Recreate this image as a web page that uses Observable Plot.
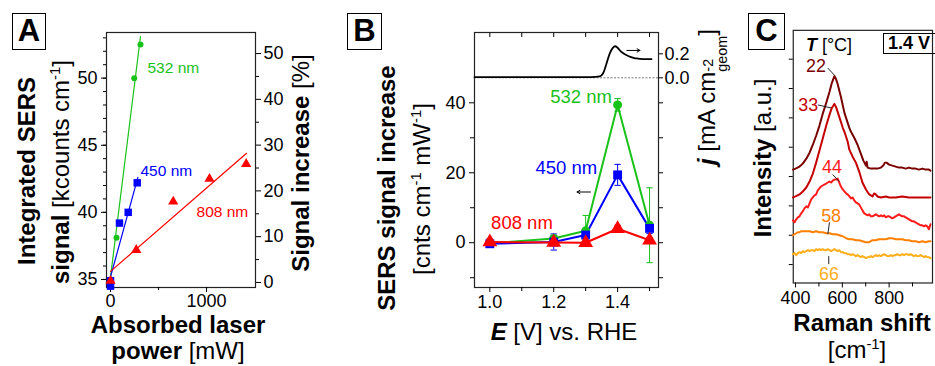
<!DOCTYPE html>
<html><head><meta charset="utf-8">
<script src="https://cdn.jsdelivr.net/npm/d3@7"></script>
<script src="https://cdn.jsdelivr.net/npm/@observablehq/plot@0.6"></script>
<style>
html,body{margin:0;padding:0;background:#fff;overflow:hidden}
#fig{position:relative;width:935px;height:366px;overflow:hidden;font-family:"Liberation Sans",Arial,sans-serif;color:#000;background:#fff}
#fig svg{position:absolute;left:0;top:0}
.t{position:absolute;white-space:nowrap;transform:translate(-50%,-50%);line-height:1;font-size:24px}
.v{transform:translate(-50%,-50%) rotate(-90deg)}
.b{font-weight:bold}
.box{position:absolute;border:1.6px solid #000;font-weight:bold;font-size:31px;line-height:34px;text-align:center;box-sizing:border-box}
sup{font-size:0.62em;vertical-align:0.6em;line-height:0}
.ss{display:inline-flex;flex-direction:column;font-size:0.6em;line-height:0.95;vertical-align:0.15em}
</style></head>
<body><div id="fig"></div>
<script>
// ---------- Panel A data ----------
const powA532 = [0, 62, 247, 312];
const sigA532 = [35.0, 38.1, 50.0, 52.5];
const powA450 = [0, 0, 93, 184, 278];
const sigA450 = [34.9, 34.5, 39.2, 40.0, 42.2];
const powA808 = [0, 268, 653, 1031, 1413];
const sigA808 = [34.9, 37.2, 40.8, 42.5, 43.6];
const fitPowA532 = [0, 312], fitSigA532 = [35.2, 53.1];
const fitPowA450 = [0, 285], fitSigA450 = [35.2, 42.6];
const fitPowA808 = [0, 1417], fitSigA808 = [35.6, 44.4];
const ticksAleft = [35, 40, 45, 50];
const ticksAright = [0, 10, 20, 30, 40, 50];
const ticksAx = [0, 1000];

// ---------- Panel B data ----------
const potB = [1.0, 1.2, 1.3, 1.4, 1.5];
const incB532 = [-0.2, 1.2, 3.4, 39.4, 5.0];
const errB532 = [0.8, 0.8, 4.4, 1.8, 10.7];
const incB450 = [-0.3, 0.2, 2.2, 19.4, 4.1];
const errB450 = [0.5, 2.3, 1.0, 3.0, 1.5];
const incB808 = [0.2, 0.1, 0.0, 4.0, 0.7];
const errB808 = [1.0, 0.5, 0.5, 1.0, 0.8];
const potJ = [0.952, 1.1, 1.2, 1.3, 1.33, 1.344, 1.355, 1.365, 1.375, 1.385, 1.392, 1.40, 1.41, 1.42, 1.43, 1.44, 1.45, 1.46, 1.48, 1.506];
const curJ = [0.005, 0.005, 0.005, 0.006, 0.008, 0.012, 0.04, 0.117, 0.2, 0.25, 0.263, 0.25, 0.22, 0.2, 0.186, 0.175, 0.167, 0.161, 0.156, 0.155];
const ticksBx = [1.0, 1.2, 1.4];
const ticksBy = [0, 20, 40];
const ticksJ = [0.0, 0.2];

// ---------- Panel C data ----------
const tempsC = ["22", "33", "44", "58", "66"];
const spec22 = [[389,11.3],[400,11.4],[417,11.6],[431,11.9],[446,12.4],[460,13.0],[474,13.8],[488,14.7],[502,15.7],[516,16.9],[531,18.0],[545,19.1],[555,20.0],[566,20.7],[573,20.4],[580,19.9],[594,18.6],[609,17.0],[623,16.0],[630,15.5],[637,15.1],[644,14.8],[651,14.5],[665,13.8],[679,12.9],[690,12.2],[701,11.7],[704,12.1],[708,11.5],[722,11.4],[736,11.4],[750,11.4],[765,11.5],[775,11.7],[782,12.0],[789,12.0],[800,11.8],[814,11.7],[828,11.6],[842,11.5],[856,11.5],[871,11.4],[885,11.5],[899,11.4],[913,11.4],[928,11.3],[942,11.4],[956,11.3],[970,11.3],[977,11.2]];
const spec33 = [[389,8.5],[400,8.6],[417,8.8],[431,9.1],[446,9.5],[460,10.1],[474,10.9],[488,12.0],[502,13.2],[516,14.4],[531,15.7],[545,16.8],[555,17.5],[566,17.9],[573,17.6],[587,16.6],[602,15.5],[609,15.1],[623,14.1],[630,13.3],[644,12.6],[658,12.0],[672,11.1],[686,10.0],[701,9.3],[715,8.8],[729,8.6],[736,8.9],[743,8.8],[750,8.6],[765,8.5],[786,8.6],[800,8.5],[828,8.5],[856,8.6],[885,8.5],[913,8.5],[942,8.5],[977,8.5]];
const spec44 = [[389,6.2],[396,6.0],[403,6.3],[410,6.5],[417,6.6],[424,6.9],[431,7.1],[438,7.4],[446,7.6],[453,7.5],[460,7.9],[467,8.3],[474,8.5],[481,8.7],[488,8.8],[495,9.2],[502,9.4],[509,9.6],[516,9.7],[523,9.8],[531,9.9],[538,10.0],[545,10.1],[552,10.0],[559,10.2],[566,10.3],[573,10.3],[580,10.4],[587,10.0],[594,9.6],[602,9.3],[609,9.1],[616,8.9],[623,8.8],[630,8.6],[637,8.4],[644,8.5],[651,8.2],[658,8.0],[665,7.9],[672,7.8],[679,7.5],[686,7.2],[694,6.9],[701,6.8],[708,6.7],[715,6.8],[722,6.6],[729,6.6],[736,6.7],[743,6.8],[750,6.7],[757,6.6],[765,6.7],[772,6.6],[779,6.7],[786,6.5],[793,6.6],[800,6.6],[807,6.5],[814,6.4],[821,6.5],[828,6.6],[835,6.7],[842,6.8],[849,6.7],[856,6.6],[864,6.6],[871,6.5],[878,6.4],[885,6.3],[892,6.2],[899,6.1],[906,6.1],[913,6.0],[920,5.9],[928,5.8],[935,5.7],[942,5.7],[949,5.6],[956,5.7],[963,5.6],[970,5.3],[977,5.8]];
const spec58 = [[389,4.7],[396,4.8],[403,4.9],[410,5.0],[417,5.0],[424,5.1],[431,5.1],[446,5.1],[460,5.1],[474,5.0],[488,5.1],[502,5.0],[516,5.0],[531,4.9],[545,4.9],[559,4.8],[573,4.8],[587,4.7],[602,4.6],[616,4.4],[630,4.3],[644,4.3],[658,4.2],[672,4.2],[686,4.1],[701,4.0],[715,4.0],[729,4.2],[743,4.2],[757,4.3],[772,4.3],[786,4.3],[800,4.4],[814,4.4],[828,4.3],[842,4.3],[856,4.3],[871,4.2],[885,4.2],[899,4.1],[913,4.1],[928,4.0],[942,4.1],[956,4.0],[970,4.1],[977,4.1]];
const spec66 = [[389,2.8],[396,2.9],[403,2.7],[410,2.9],[417,3.0],[424,2.9],[431,3.1],[438,3.0],[446,3.1],[453,3.2],[460,3.1],[467,3.2],[474,3.2],[481,3.1],[488,3.3],[495,3.2],[502,3.3],[509,3.2],[516,3.3],[523,3.2],[531,3.2],[538,3.3],[545,3.2],[552,3.1],[559,3.2],[566,3.3],[573,3.2],[580,3.1],[587,3.2],[594,3.0],[602,3.0],[609,2.9],[616,2.9],[623,2.8],[630,2.8],[637,2.7],[644,2.8],[651,2.7],[658,2.6],[665,2.7],[672,2.6],[679,2.5],[686,2.6],[694,2.5],[701,2.4],[708,2.5],[715,2.5],[722,2.6],[729,2.5],[736,2.6],[743,2.7],[750,2.6],[757,2.7],[765,2.6],[772,2.7],[779,2.8],[786,2.7],[793,2.6],[800,2.6],[807,2.7],[814,2.6],[821,2.7],[828,2.7],[835,2.8],[842,2.7],[849,2.7],[856,2.8],[864,2.7],[871,2.8],[878,2.8],[885,2.7],[892,2.8],[899,2.7],[906,2.6],[913,2.7],[920,2.6],[928,2.6],[935,2.7],[942,2.6],[949,2.5],[956,2.6],[963,2.5],[970,2.5],[977,2.4]];
const labelXC = [487, 454, 556, 552, 543];
const labelYC = [21.7, 17.8, 11.55, 6.6, 0.8];
const leaderC = [[538,21.5,566,20.8],[495,17.8,552,17.5],[559,10.8,587,10.1],[545,6.0,538,4.8],[542,2.6,542,1.8]];
const ticksCx = [400, 600, 800];
const ticksCy = [1.75, 4.7, 7.65, 10.6, 13.55, 16.5, 19.45, 22.4];

// ---------- helpers ----------
const fig = document.getElementById("fig");
const FONT = "Liberation Sans, Arial, sans-serif";
const green = "#19c219", blue = "#0000ff", red = "#ff0000";
function add(opts) {
  const svg = Plot.plot({
    height: 366, width: 935,
    ...opts,
    style: {fontFamily: FONT, fontSize: "18px", background: "transparent", overflow: "visible", color: "#000"}
  });
  fig.appendChild(svg);
}
const pts = (xs, ys) => xs.map((x, i) => ({x, y: ys[i]}));
function html(h, x, y, cls = "", fs) {
  const d = document.createElement("div");
  d.className = "t " + cls; d.style.left = x + "px"; d.style.top = y + "px"; d.innerHTML = h;
  if (fs) d.style.fontSize = fs + "px";
  fig.appendChild(d);
}
function box(letter, x, y, w, h) {
  const d = document.createElement("div");
  d.className = "box"; d.style.left = x + "px"; d.style.top = y + "px";
  d.style.width = w + "px"; d.style.height = h + "px"; d.textContent = letter;
  fig.appendChild(d);
}
const blank = () => "";
const fmtInt = d3.format("d");

// ---------- Panel A ----------
add({
  marginLeft: 106, marginRight: 935 - 255, marginTop: 32, marginBottom: 366 - 287,
  x: {domain: [-42, 1510]}, y: {domain: [34.4, 53.4]},
  marks: [
    Plot.frame({stroke: "#222", strokeWidth: 1.2}),
    Plot.axisY({anchor: "left", ticks: d3.range(35, 54), tickSize: 3, tickFormat: blank, label: null}),
    Plot.axisY({anchor: "left", ticks: ticksAleft, tickSize: 5, tickPadding: 4, fontSize: 18, label: null}),
    Plot.axisX({anchor: "bottom", ticks: [500], tickSize: 3, tickFormat: blank, label: null}),
    Plot.axisX({anchor: "bottom", ticks: ticksAx, tickSize: 5, tickPadding: 2, fontSize: 18, tickFormat: fmtInt, label: null}),
    Plot.line(pts(fitPowA532, fitSigA532), {x: "x", y: "y", stroke: green, strokeWidth: 1.2}),
    Plot.line(pts(fitPowA450, fitSigA450), {x: "x", y: "y", stroke: blue, strokeWidth: 1.2}),
    Plot.line(pts(fitPowA808, fitSigA808), {x: "x", y: "y", stroke: red, strokeWidth: 1.2}),
    Plot.dot(pts(powA532, sigA532), {x: "x", y: "y", r: 3, fill: green, symbol: "circle"}),
    Plot.dot(pts(powA450, sigA450), {x: "x", y: "y", r: 4.2, fill: blue, symbol: "square"}),
    Plot.dot(pts(powA808, sigA808), {x: "x", y: "y", r: 3.8, fill: red, symbol: "triangle"}),
    Plot.text([{x: 385, y: 50.75, t: "532 nm", c: green}, {x: 312, y: 43.1, t: "450 nm", c: blue}, {x: 896, y: 40.0, t: "808 nm", c: red}],
      {x: "x", y: "y", text: "t", fill: "c", textAnchor: "start", fontSize: 15.5})
  ]
});
add({
  marginLeft: 106, marginRight: 935 - 255, marginTop: 32, marginBottom: 366 - 287,
  x: {domain: [-42, 1510], axis: null}, y: {domain: [-1.1, 54.6]},
  marks: [
    Plot.axisY({anchor: "right", ticks: [5, 15, 25, 35, 45], tickSize: 3, tickFormat: blank, label: null}),
    Plot.axisY({anchor: "right", ticks: ticksAright, tickSize: 5, tickPadding: 3, fontSize: 18, label: null})
  ]
});
box("A", 12, 13, 34, 37);
html('<span class="b">Integrated SERS</span>', 27, 171, "v");
html('<span class="b">signal</span> [kcounts cm<sup>-1</sup>]', 61, 172, "v");
html('<span class="b">Signal increase</span> [%]', 301, 163, "v");
html('<span class="b">Absorbed laser</span>', 178, 325);
html('<span class="b">power</span> [mW]', 178, 351);

// ---------- Panel B ----------
const errs = (ys, es) => potB.map((x, i) => ({x, y1: ys[i] - es[i], y2: ys[i] + es[i]}));
const caps = (ys, es) => potB.flatMap((x, i) => [{x1: x - 0.01, x2: x + 0.01, y: ys[i] - es[i]}, {x1: x - 0.01, x2: x + 0.01, y: ys[i] + es[i]}]);
const errMarks = (ys, es, c) => [
  Plot.ruleX(errs(ys, es), {x: "x", y1: "y1", y2: "y2", stroke: c, strokeWidth: 1}),
  Plot.link(caps(ys, es), {x1: "x1", x2: "x2", y1: "y", y2: "y", stroke: c, strokeWidth: 1})
];
add({
  marginLeft: 474, marginRight: 935 - 658, marginTop: 32, marginBottom: 366 - 287,
  x: {domain: [0.952, 1.528]}, y: {domain: [-12.8, 60.1]},
  marks: [
    Plot.frame({stroke: "#222", strokeWidth: 1.2}),
    Plot.axisY({anchor: "left", ticks: [-10, 10, 30], tickSize: 4, tickFormat: blank, label: null}),
    Plot.axisY({anchor: "left", ticks: ticksBy, tickSize: 5, tickPadding: 4, fontSize: 18, label: null}),
    Plot.axisY({anchor: "right", ticks: [-10, 0, 10, 20, 30, 40], tickSize: 4, tickFormat: blank, label: null}),
    Plot.axisX({anchor: "bottom", ticks: [1.1, 1.3, 1.5], tickSize: 4, tickFormat: blank, label: null}),
    Plot.axisX({anchor: "bottom", ticks: ticksBx, tickSize: 5, tickPadding: 3, fontSize: 18, tickFormat: d3.format(".1f"), label: null}),
    Plot.axisX({anchor: "top", ticks: [1.0, 1.1, 1.2, 1.3, 1.4, 1.5], tickSize: -4, tickFormat: blank, label: null}),
    ...errMarks(incB532, errB532, green),
    ...errMarks(incB450, errB450, blue),
    ...errMarks(incB808, errB808, red),
    Plot.line(pts(potB, incB532), {x: "x", y: "y", stroke: green, strokeWidth: 2}),
    Plot.line(pts(potB, incB450), {x: "x", y: "y", stroke: blue, strokeWidth: 2}),
    Plot.line(pts(potB, incB808), {x: "x", y: "y", stroke: red, strokeWidth: 2}),
    Plot.dot(pts(potB, incB532), {x: "x", y: "y", r: 4.5, fill: green, symbol: "circle"}),
    Plot.dot(pts(potB, incB450), {x: "x", y: "y", r: 5, fill: blue, symbol: "square"}),
    Plot.dot(pts(potB, incB808), {x: "x", y: "y", r: 5.5, fill: red, symbol: "triangle"}),
    Plot.text([{x: 1.382, y: 41.5, t: "532 nm", c: green}, {x: 1.336, y: 21.2, t: "450 nm", c: blue}],
      {x: "x", y: "y", text: "t", fill: "c", textAnchor: "end", fontSize: 18.5}),
    Plot.text([{x: 1.004, y: 5.5, t: "808 nm", c: red}], {x: "x", y: "y", text: "t", fill: "c", textAnchor: "start", fontSize: 18.5}),
    Plot.arrow([{x1: 1.315, x2: 1.273, y: 14.5}], {x1: "x1", x2: "x2", y1: "y", y2: "y", stroke: "#000", strokeWidth: 1, headLength: 5})
  ]
});
add({
  marginLeft: 474, marginRight: 935 - 658, marginTop: 32, marginBottom: 366 - 287,
  x: {domain: [0.952, 1.528], axis: null}, y: {domain: [-1.7475, 0.3775]},
  marks: [
    Plot.ruleY([0], {stroke: "#555", strokeWidth: 0.8, strokeDasharray: "2,1.5"}),
    Plot.axisY({anchor: "right", ticks: ticksJ, tickSize: 4, tickPadding: 2, fontSize: 18, tickFormat: d3.format(".1f"), label: null}),
    Plot.line(pts(potJ, curJ), {x: "x", y: "y", stroke: "#000", strokeWidth: 1.8, curve: "monotone-x"}),
    Plot.arrow([{x1: 1.429, x2: 1.47, y: 0.228}], {x1: "x1", x2: "x2", y1: "y", y2: "y", stroke: "#000", strokeWidth: 1, headLength: 5})
  ]
});
box("B", 347, 13, 35, 37);
html('<span class="b">SERS signal increase</span>', 387, 188, "v");
html('[cnts cm<sup>-1</sup> mW<sup>-1</sup>]', 422, 189, "v");
html('<span class="b"><i>E</i></span> [V] vs. RHE', 564, 332);
html('<span class="b"><i>j</i></span> [mA cm<span class="ss"><span>-2</span><span>geom</span></span>]', 712, 97, "v");

// ---------- Panel C ----------
const specs = [spec22, spec33, spec44, spec58, spec66];
const colC = ["#7a0000", "#c40000", "#ff1a1a", "#ff8000", "#ffae1a"];
add({
  width: 940,
  marginLeft: 797, marginRight: 3, marginTop: 30, marginBottom: 366 - 284,
  x: {domain: [390.2, 985.5]}, y: {domain: [-0.1, 25.3]},
  marks: [
    Plot.frame({stroke: "#222", strokeWidth: 1.2}),
    Plot.axisY({anchor: "left", ticks: ticksCy, tickSize: 4, tickFormat: blank, label: null}),
    Plot.axisX({anchor: "bottom", ticks: [500, 700, 900], tickSize: 4, tickFormat: blank, label: null}),
    Plot.axisX({anchor: "bottom", ticks: ticksCx, tickSize: 5, tickPadding: 3, fontSize: 18, tickFormat: fmtInt, label: null}),
    ...specs.map((s, k) => Plot.line(s, {x: d => d[0], y: d => d[1], stroke: colC[k], strokeWidth: 2})),
    Plot.link(leaderC, {x1: d => d[0], y1: d => d[1], x2: d => d[2], y2: d => d[3], stroke: "#222", strokeWidth: 1}),
    Plot.text(tempsC.map((t, k) => ({x: labelXC[k], y: labelYC[k], t, c: colC[k]})), {x: "x", y: "y", text: "t", fill: "c", fontSize: 18})
  ]
});
box("C", 748, 13, 37, 37);
html('<span class="b"><i>T</i></span> [°C]', 829, 45, "", 18);
const vb = document.createElement("div");
vb.className = "box"; vb.style.left = "883px"; vb.style.top = "33px"; vb.style.width = "60px"; vb.style.height = "21px";
vb.style.fontSize = "18px"; vb.style.lineHeight = "18px"; vb.style.textAlign = "left"; vb.style.paddingLeft = "4px"; vb.style.borderWidth = "1.3px";
vb.textContent = "1.4 V"; fig.appendChild(vb);
html('<span class="b">Intensity</span> [a.u.]', 763, 158, "v");
html('<span class="b">Raman shift</span>', 862, 323);
html('[cm<sup>-1</sup>]', 857, 350);
</script></body></html>
